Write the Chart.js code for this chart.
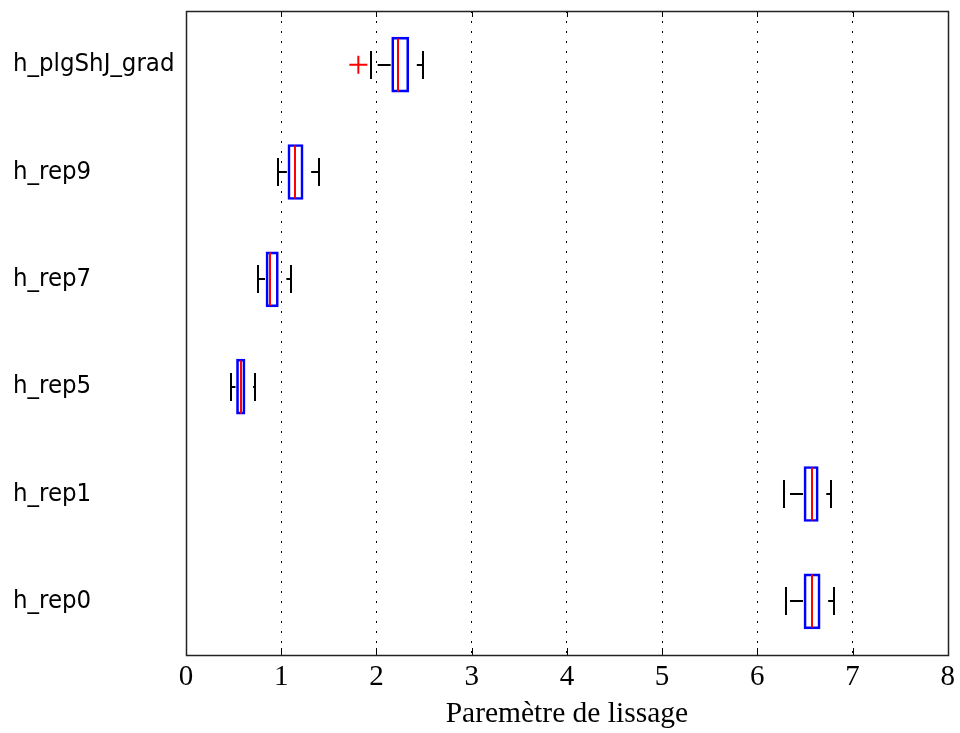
<!DOCTYPE html>
<html><head><meta charset="utf-8">
<script src="https://cdn.jsdelivr.net/npm/chart.js@4.4.0/dist/chart.umd.min.js"></script>
<style>html,body{margin:0;padding:0;background:#fff;} #c{display:block;}</style>
</head><body>
<canvas id="c" width="960" height="733"></canvas>
<script>
// ---- data ----
const categories   = ['h_plgShJ_grad', 'h_rep9', 'h_rep7', 'h_rep5', 'h_rep1', 'h_rep0'];
const lowerWhisker = [1.94, 0.97, 0.76, 0.47, 6.28, 6.30];
const q1Values     = [2.16, 1.07, 0.84, 0.53, 6.49, 6.49];
const medianValues = [2.23, 1.14, 0.885, 0.575, 6.57, 6.57];
const q3Values     = [2.34, 1.23, 0.97, 0.62, 6.64, 6.66];
const upperWhisker = [2.49, 1.40, 1.10, 0.72, 6.77, 6.81];
const outlierCategories = ['h_plgShJ_grad'];
const outlierValues     = [1.81];
const xTickValues = [0, 1, 2, 3, 4, 5, 6, 7, 8];
const xAxisTitle = 'Paremètre de lissage';

const boxPlugin = {
  id: 'boxParts',
  afterDatasetsDraw(chart) {
    const ctx = chart.ctx, xs = chart.scales.x;
    const meta = chart.getDatasetMeta(0);
    const px = v => xs.getPixelForValue(v);
    meta.data.forEach((bar, i) => {
      const yc = Math.round(bar.y);
      const h = bar.height;
      const top = yc - h / 2, bot = yc + h / 2;
      ctx.save();
      // median
      ctx.strokeStyle = '#ff0000'; ctx.lineWidth = 2;
      ctx.beginPath(); ctx.moveTo(Math.round(px(medianValues[i])), top + 1); ctx.lineTo(Math.round(px(medianValues[i])), bot - 1); ctx.stroke();
      // whiskers (dashed)
      ctx.strokeStyle = '#000'; ctx.lineWidth = 2;
      ctx.setLineDash([13, 7]);
      ctx.lineDashOffset = 0;
      ctx.beginPath(); ctx.moveTo(px(q1Values[i]) - 1, yc); ctx.lineTo(px(lowerWhisker[i]), yc); ctx.stroke();
      ctx.lineDashOffset = 13;
      ctx.beginPath(); ctx.moveTo(px(q3Values[i]) + 1, yc); ctx.lineTo(px(upperWhisker[i]), yc); ctx.stroke();
      // caps
      ctx.setLineDash([]);
      const capH = 14;
      [lowerWhisker[i], upperWhisker[i]].forEach(v => {
        const x = Math.round(px(v));
        ctx.beginPath(); ctx.moveTo(x, yc - capH); ctx.lineTo(x, yc + capH); ctx.stroke();
      });
      ctx.restore();
    });
  },
  afterDraw(chart) {
    const ctx = chart.ctx, a = chart.chartArea, xs = chart.scales.x;
    ctx.save();
    ctx.strokeStyle = '#000'; ctx.lineWidth = 1;
    // inward tick marks top and bottom
    xTickValues.forEach(v => {
      const x = Math.round(xs.getPixelForValue(v)) + 0.5;
      ctx.beginPath(); ctx.moveTo(x, a.bottom); ctx.lineTo(x, a.bottom - 7); ctx.stroke();
      ctx.beginPath(); ctx.moveTo(x, a.top); ctx.lineTo(x, a.top + 6); ctx.stroke();
    });
    // frame
    ctx.strokeStyle = '#222'; ctx.lineWidth = 1.5;
    ctx.strokeRect(Math.round(a.left) + 0.5, Math.round(a.top) + 0.5, Math.round(a.right - a.left), Math.round(a.bottom - a.top));
    ctx.restore();
  }
};

new Chart(document.getElementById('c'), {
  type: 'bar',
  data: {
    labels: categories,
    datasets: [
      {
        label: 'box',
        data: categories.map((c, i) => [q1Values[i], q3Values[i]]),
        backgroundColor: 'rgba(0,0,0,0)',
        borderColor: '#0000ff',
        borderWidth: 2,
        borderSkipped: false,
        barThickness: 55
      },
      {
        type: 'scatter',
        label: 'outliers',
        data: outlierCategories.map((c, i) => ({ x: outlierValues[i], y: c })),
        pointStyle: 'cross',
        radius: 9,
        borderColor: '#ff0000',
        borderWidth: 2
      }
    ]
  },
  options: {
    indexAxis: 'y',
    responsive: false,
    animation: false,
    events: [],
    layout: { padding: { left: 13, right: 10, top: 9, bottom: 0 } },
    plugins: { legend: { display: false }, tooltip: { enabled: false }, title: { display: false } },
    scales: {
      x: {
        type: 'linear',
        min: 0, max: 8,
        afterBuildTicks(scale) { scale.ticks = xTickValues.map(v => ({ value: v })); },
        afterFit(scale) { scale.height = 78; },
        grid: {
          drawTicks: false,
          lineWidth: 1,
          color: c => (c.tick && c.tick.value > 0 && c.tick.value < 8) ? '#000' : 'rgba(0,0,0,0)'
        },
        border: { display: false, dash: [2, 8] },
        ticks: {
          padding: 5,
          color: '#000',
          font: { family: "'Liberation Serif', 'Times New Roman', serif", size: 29 },
          maxRotation: 0
        },
        title: {
          display: true,
          text: xAxisTitle,
          color: '#000',
          padding: { top: 0, bottom: 1 },
          font: { family: "'Liberation Serif', 'Times New Roman', serif", size: 29.5 }
        }
      },
      y: {
        type: 'category',
        afterFit(scale) { scale.width = 173; },
        grid: { display: false, drawTicks: false },
        border: { display: false },
        ticks: {
          crossAlign: 'far',
          padding: 0,
          color: '#000',
          font: { family: "'Liberation Sans Narrow', 'DejaVu Sans Condensed', 'Liberation Sans', sans-serif", size: 25.5, lineHeight: 0.5 }
        }
      }
    }
  },
  plugins: [boxPlugin]
});
</script>
</body></html>
